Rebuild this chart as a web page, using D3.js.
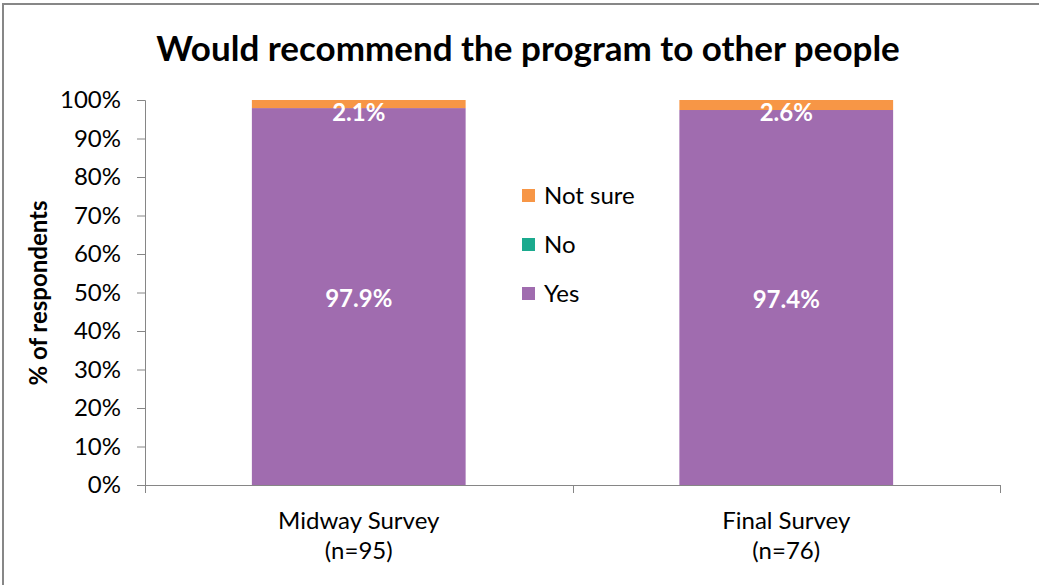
<!DOCTYPE html>
<html>
<head>
<meta charset="utf-8">
<script src="https://cdn.jsdelivr.net/npm/d3@7"></script>
<style>
  html, body { margin: 0; padding: 0; background: #fff; }
  svg { display: block; font-family: Lato, "Open Sans", sans-serif; }
</style>
</head>
<body>
<svg id="chart" width="1039" height="585"></svg>
<script>
// Survey responses (percent of respondents)
const categories = ["Midway Survey", "Final Survey"];
const sampleSizes = ["(n=95)", "(n=76)"];
const seriesNames = ["Yes", "No", "Not sure"];
const yesValues = [97.9, 97.4];
const noValues = [0, 0];
const notSureValues = [2.1, 2.6];
const yTicks = [0, 10, 20, 30, 40, 50, 60, 70, 80, 90, 100];
const seriesColors = { "Yes": "#A06CAF", "No": "#1BAA8E", "Not sure": "#F79646" };

const svg = d3.select("#chart");
const plotBottom = 485;

// chart frame (top and left edges)
svg.append("line").attr("x1", 3).attr("x2", 1039).attr("y1", 4).attr("y2", 4)
  .attr("stroke", "#878787").attr("stroke-width", 2);
svg.append("line").attr("x1", 3).attr("x2", 3).attr("y1", 3).attr("y2", 585)
  .attr("stroke", "#878787").attr("stroke-width", 2);

const x = d3.scaleBand().domain(categories).range([145, 1000])
  .paddingInner(0.5).paddingOuter(0.25);
const y = d3.scaleLinear().domain([0, 100]).range([plotBottom, 100]);

// stacked data
const rows = categories.map((c, i) => ({
  category: c, "Yes": yesValues[i], "No": noValues[i], "Not sure": notSureValues[i]
}));
const stack = d3.stack().keys(seriesNames)(rows);

svg.append("g").selectAll("g").data(stack).join("g")
  .attr("fill", d => seriesColors[d.key])
  .selectAll("rect").data(d => d).join("rect")
  .attr("x", d => x(d.data.category))
  .attr("width", x.bandwidth())
  .attr("y", d => y(d[1]))
  .attr("height", d => Math.max(0, y(d[0]) - y(d[1])));

// y axis
const yAxis = svg.append("g").attr("transform", "translate(145,0)")
  .call(d3.axisLeft(y).tickValues(yTicks).tickFormat(d => d + "%").tickSizeOuter(0).tickSize(8).tickPadding(16));
yAxis.select(".domain").attr("stroke", "#868686");
yAxis.selectAll(".tick line").attr("stroke", "#868686");
yAxis.selectAll(".tick text").attr("font-size", 24).attr("fill", "#000")
  .attr("font-family", "Lato, sans-serif");

// x axis with boundary ticks between categories
const xAxisG = svg.append("g");
xAxisG.append("line").attr("x1", 137).attr("x2", 1000)
  .attr("y1", plotBottom + 0.5).attr("y2", plotBottom + 0.5).attr("stroke", "#868686");
const bounds = [145, (x(categories[0]) + x.bandwidth() + x(categories[1])) / 2, 1000];
xAxisG.selectAll("line.b").data(bounds).join("line").attr("class", "b")
  .attr("x1", d => Math.round(d) + 0.5).attr("x2", d => Math.round(d) + 0.5)
  .attr("y1", plotBottom).attr("y2", plotBottom + 8).attr("stroke", "#868686");

const catLabels = svg.append("g").selectAll("text").data(categories).join("text")
  .attr("x", d => x(d) + x.bandwidth() / 2)
  .attr("text-anchor", "middle").attr("font-size", 24).attr("fill", "#000");
catLabels.append("tspan").attr("x", d => x(d) + x.bandwidth() / 2).attr("y", 529).text(d => d);
catLabels.append("tspan").attr("x", d => x(d) + x.bandwidth() / 2).attr("y", 559)
  .text((d, i) => sampleSizes[i]);

// value labels
const labelG = svg.append("g").attr("fill", "#fff").attr("font-weight", "bold")
  .attr("font-size", 24).attr("text-anchor", "middle");
rows.forEach(r => {
  const cx = x(r.category) + x.bandwidth() / 2;
  labelG.append("text").attr("x", cx).attr("y", y(r["Yes"] / 2) + 10)
    .text(r["Yes"].toFixed(1) + "%");
  labelG.append("text").attr("x", cx).attr("y", y(100) + 21)
    .text(r["Not sure"].toFixed(1) + "%");
});

// legend
const legendItems = ["Not sure", "No", "Yes"];
const lg = svg.append("g").selectAll("g").data(legendItems).join("g")
  .attr("transform", (d, i) => `translate(522, ${196 + i * 49})`);
lg.append("rect").attr("x", 0).attr("y", -7).attr("width", 13).attr("height", 13)
  .attr("fill", d => seriesColors[d]);
lg.append("text").attr("x", 22).attr("y", 8).attr("font-size", 24).attr("fill", "#000")
  .text(d => d);

// title
svg.append("text").attr("x", 528).attr("y", 61).attr("text-anchor", "middle")
  .attr("font-size", 35).attr("font-weight", "bold").attr("fill", "#000")
  .text("Would recommend the program to other people");

// y axis title
svg.append("text").attr("transform", "translate(47, 293) rotate(-90)")
  .attr("text-anchor", "middle").attr("font-size", 24).attr("font-weight", "bold")
  .attr("fill", "#000").text("% of respondents");
</script>
</body>
</html>
